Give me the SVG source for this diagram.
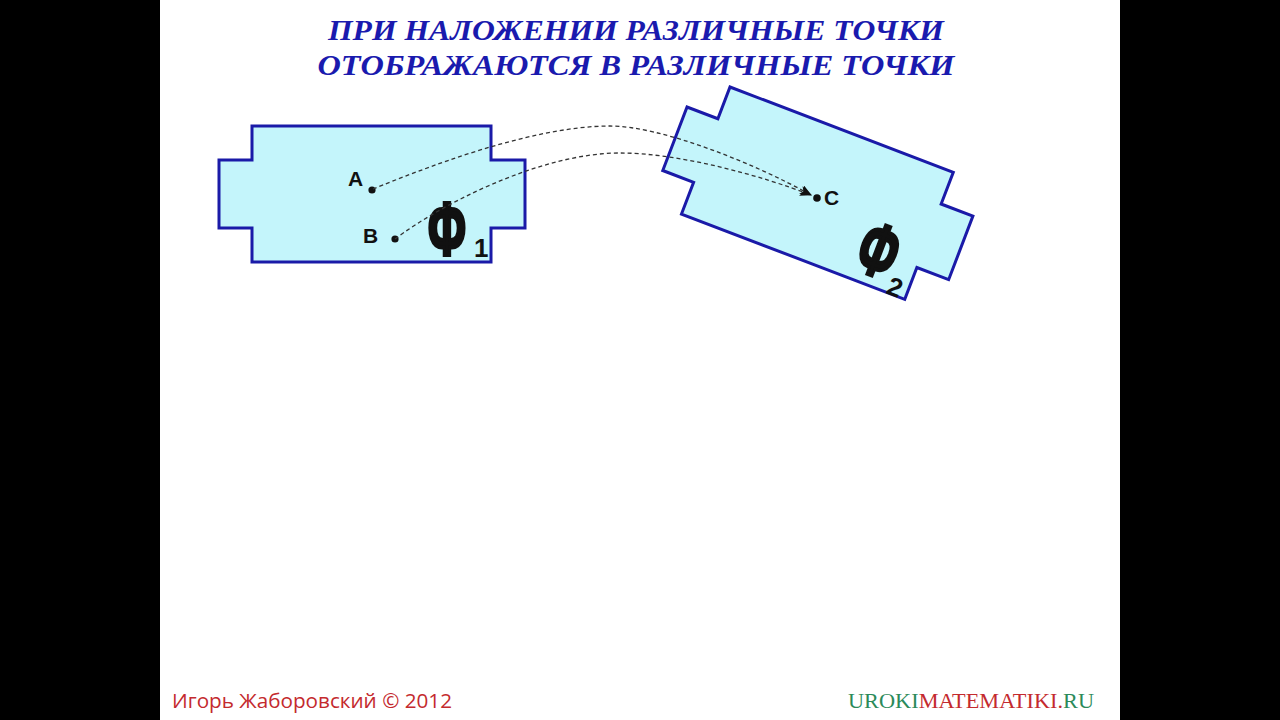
<svg xmlns="http://www.w3.org/2000/svg" width="1280" height="720" viewBox="0 0 1280 720">
  <style>
    .shape{fill:#c4f5fb;stroke:#1a1aa8;stroke-width:3;stroke-linejoin:miter}
    .lbl{font-family:"Liberation Sans",Arial,sans-serif;font-weight:bold;fill:#111}
    .big{font-family:"Liberation Sans",Arial,sans-serif;font-weight:bold;fill:#111;stroke:#111;stroke-width:4;font-size:74px;text-anchor:middle}
    .dot{fill:#111}
    .conn{fill:none;stroke:#333;stroke-width:1.3;stroke-dasharray:4 3}
    .title{font-family:"Liberation Serif","Times New Roman",serif;font-weight:bold;font-style:italic;font-size:30px;fill:#1a1aae;text-anchor:middle}
  </style>
  <defs>
    <marker id="arr" viewBox="0 0 12 10" refX="11" refY="5" markerWidth="12" markerHeight="10" markerUnits="userSpaceOnUse" orient="auto">
      <path d="M0,0 L12,5 L0,10 L3,5 z" fill="#111"/>
    </marker>
    <polygon id="fig" points="252,126 491,126 491,160 525,160 525,228 491,228 491,262 252,262 252,228 219,228 219,160 252,160"/>
  </defs>
  <rect x="0" y="0" width="1280" height="720" fill="#000"/>
  <rect x="160" y="0" width="960" height="720" fill="#fff"/>

  <g id="title">
    <text class="title" x="636" y="40" textLength="616" lengthAdjust="spacingAndGlyphs">ПРИ НАЛОЖЕНИИ РАЗЛИЧНЫЕ ТОЧКИ</text>
    <text class="title" x="636" y="75" textLength="637" lengthAdjust="spacingAndGlyphs">ОТОБРАЖАЮТСЯ В РАЗЛИЧНЫЕ ТОЧКИ</text>
  </g>

  <g id="figure1">
    <use href="#fig" class="shape"/>
    <text class="big" transform="translate(447,255) scale(0.6,1)" x="0" y="0">Ф</text>
    <text class="lbl" x="474" y="257" font-size="26">1</text>
  </g>

  <g id="figure2">
    <g transform="translate(730,87) rotate(20.9) translate(-252,-126)">
      <use href="#fig" class="shape"/>
    </g>
    <g transform="translate(879,250) rotate(21)">
      <text class="big" transform="translate(0,26) scale(0.6,1)" x="0" y="0">Ф</text>
      <text class="lbl" x="21" y="38" font-size="26">2</text>
    </g>
  </g>

  <g id="pointA">
    <circle class="dot" cx="372" cy="190" r="3.6"/>
    <text class="lbl" x="348" y="186" font-size="21">A</text>
  </g>
  <g id="pointB">
    <circle class="dot" cx="395" cy="239" r="3.6"/>
    <text class="lbl" x="363" y="243" font-size="21">B</text>
  </g>
  <g id="pointC">
    <circle class="dot" cx="817" cy="198" r="3.8"/>
    <text class="lbl" x="824" y="205" font-size="21">C</text>
  </g>

  <g id="connectors">
    <path class="conn" marker-end="url(#arr)" d="M373,189 C420,170 530,126 610,126 C660,126 752,162 811,195"/>
    <path class="conn" marker-end="url(#arr)" d="M395,239 C440,205 540,153 620,153 C680,153 762,176 811,195"/>
  </g>

  <g id="footer">
    <text x="172" y="708" font-family="'Open Sans','Liberation Sans',sans-serif" font-size="20" fill="#c42a2e" textLength="280" lengthAdjust="spacingAndGlyphs">Игорь Жаборовский © 2012</text>
    <text x="848" y="708" font-family="'Liberation Serif','Times New Roman',serif" font-size="22" textLength="246" lengthAdjust="spacingAndGlyphs"><tspan fill="#2b8a5a">UROKI</tspan><tspan fill="#c42a2e">MATEMATIKI.</tspan><tspan fill="#2b8a5a">RU</tspan></text>
  </g>
</svg>
